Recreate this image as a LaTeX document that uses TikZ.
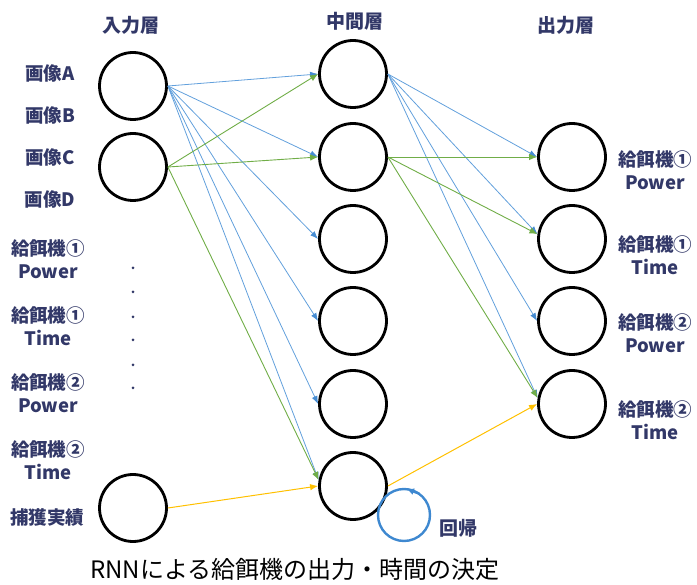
\documentclass[tikz,border=0pt]{standalone}
\usepackage{fontspec}
\setmainfont{Noto Sans CJK JP}
\usetikzlibrary{arrows.meta}
\definecolor{navy}{RGB}{50,56,104}
\definecolor{blueline}{RGB}{98,160,220}
\definecolor{bluetip}{RGB}{70,140,210}
\definecolor{greenline}{RGB}{112,173,71}
\definecolor{orangeline}{RGB}{255,192,0}
\definecolor{loopblue}{RGB}{62,136,208}
\begin{document}
\begin{tikzpicture}[x=1pt,y=-1pt,
  neuron/.style={circle, draw=black, line width=2.8pt, minimum size=67pt, inner sep=0pt},
  lab/.style={text=navy, font=\bfseries\fontsize{18.5}{23.5}\selectfont, align=center, inner sep=0pt},
  head/.style={text=navy, font=\bfseries\fontsize{19}{22}\selectfont, inner sep=0pt},
  bll/.style={draw=blueline, line width=0.8pt, -{Latex[length=8pt,width=6pt,color=bluetip]}},
  grl/.style={draw=greenline, line width=0.9pt, -{Latex[length=8pt,width=6.5pt]}},
  orl/.style={draw=orangeline, line width=1pt, -{Latex[length=8pt,width=6.5pt]}},
  loopst/.style={draw=loopblue, line width=2.4pt},
  dotst/.style={circle, fill=navy, inner sep=0pt, minimum size=3pt}]
\useasboundingbox (0,0) rectangle (697,585);

% headers
\node[head] (h1) at (131,25) {入力層};
\node[head] (h2) at (355,21) {中間層};
\node[head] (h3) at (566,25) {出力層};

% input layer
\node[neuron] (in1) at (133,86) {};
\node[neuron] (in2) at (133,167) {};
\node[neuron] (in3) at (133,508) {};

% middle layer
\node[neuron] (m1) at (353,74) {};
\node[neuron] (m2) at (353,157) {};
\node[neuron] (m3) at (353,239) {};
\node[neuron] (m4) at (353,321) {};
\node[neuron] (m5) at (353,404) {};
\node[neuron] (m6) at (353,486) {};

% output layer
\node[neuron] (o1) at (572,157) {};
\node[neuron] (o2) at (572,239) {};
\node[neuron] (o3) at (572,321) {};
\node[neuron] (o4) at (572,404) {};

% left labels
\node[lab] (la) at (50,73) {画像A};
\node[lab] (lb) at (50,115) {画像B};
\node[lab] (lc) at (50,157) {画像C};
\node[lab] (ld) at (50,199) {画像D};
\node[lab] (l1p) at (48,259) {給餌機①\\Power};
\node[lab] (l1t) at (48,326) {給餌機①\\Time};
\node[lab] (l2p) at (48,393) {給餌機②\\Power};
\node[lab] (l2t) at (48,460) {給餌機②\\Time};
\node[lab] (lh) at (47,517) {捕獲実績};

% right labels
\node[lab] (r1p) at (655,170) {給餌機①\\Power};
\node[lab] (r1t) at (655,255) {給餌機①\\Time};
\node[lab] (r2p) at (655,333) {給餌機②\\Power};
\node[lab] (r2t) at (655,420) {給餌機②\\Time};

% dots
\node[dotst] (d1) at (133,268) {};
\node[dotst] (d2) at (133,292) {};
\node[dotst] (d3) at (133,317) {};
\node[dotst] (d4) at (133,340) {};
\node[dotst] (d5) at (133,365) {};
\node[dotst] (d6) at (133,388) {};

% input -> middle (blue)
\draw[bll] (in1.east) -- (m1.west);
\draw[bll] (in1.east) -- (m2.west);
\draw[bll] (in1.east) -- (m3.west);
\draw[bll] (in1.east) -- (m4.west);
\draw[bll] (in1.east) -- (m5.west);
\draw[bll] (in1.east) -- (m6.170);

% middle -> output (blue)
\draw[bll] (m1.east) -- (o1.west);
\draw[bll] (m1.east) -- (o2.172);
\draw[bll] (m1.east) -- (o3.west);
\draw[bll] (m1.east) -- (o4.170);

% input -> middle (green)
\draw[grl] (in2.east) -- (m1.west);
\draw[grl] (in2.east) -- (m2.west);
\draw[grl] (in2.east) -- (m6.170);

% middle -> output (green)
\draw[grl] (m2.east) -- (o1.west);
\draw[grl] (m2.east) -- (o2.172);
\draw[grl] (m2.east) -- (o4.170);

% orange
\draw[orl] (in3.east) -- (m6.west);
\draw[orl] (m6.east) -- (o4.west);

% recurrent loop
\coordinate (lp) at (404,515);
\draw[loopst] (lp) circle[radius=26pt];
\coordinate (lpa) at (419,493.5);
\coordinate (lpb) at (407,489.2);
\draw[loopst, -{Latex[length=7pt,width=7pt]}] (lpa) -- (lpb);
\node[text=navy, font=\bfseries\fontsize{19}{22}\selectfont, inner sep=0pt] (kaiki) at (458,528) {回帰};

% caption
\node[font=\fontsize{24}{28}\selectfont, inner sep=0pt] (cap) at (295,569) {RNNによる給餌機の出力・時間の決定};
\end{tikzpicture}
\end{document}
